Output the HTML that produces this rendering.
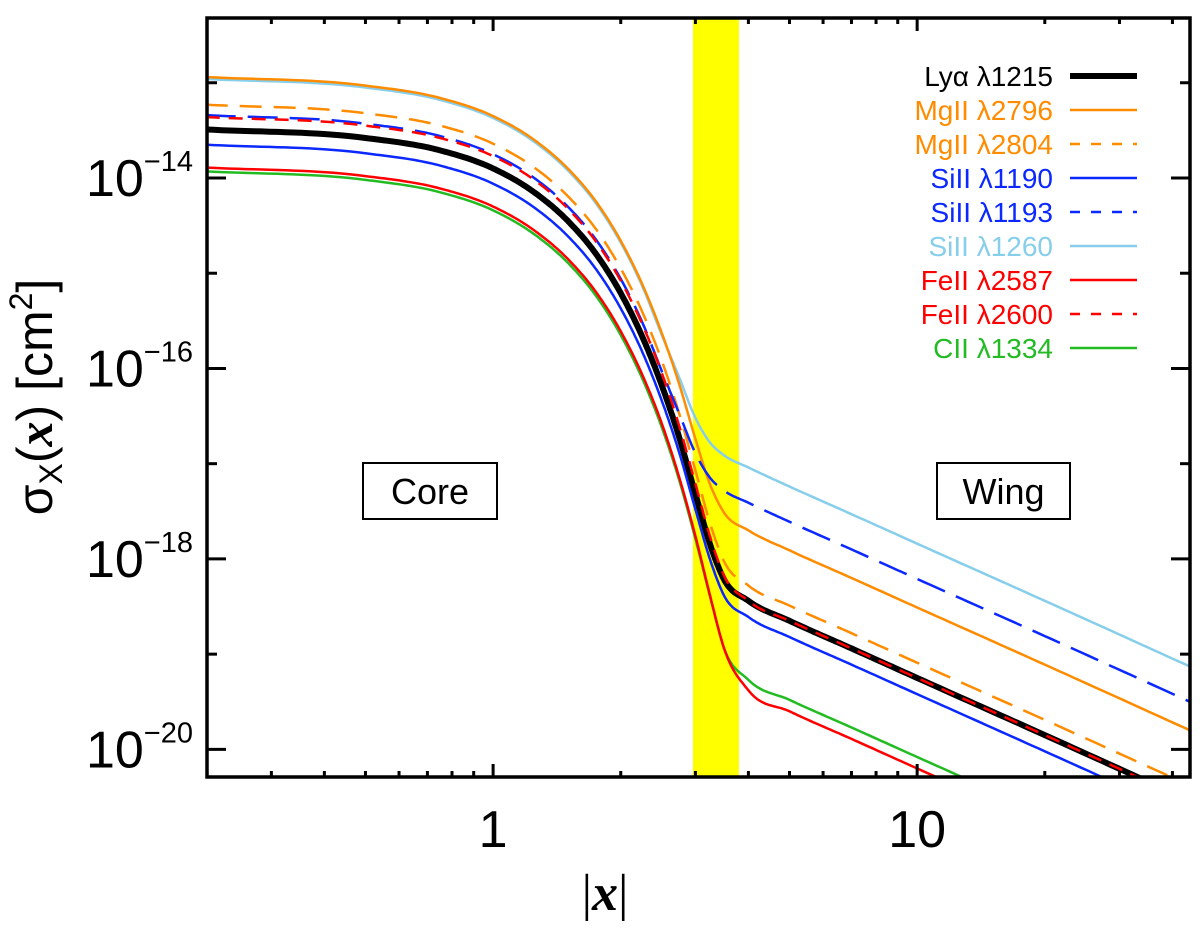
<!DOCTYPE html>
<html><head><meta charset="utf-8"><style>
html,body{margin:0;padding:0;background:#fff;}
svg{display:block;font-family:"Liberation Sans",sans-serif;}
</style></head><body>
<svg id="chart" width="1200" height="932" viewBox="0 0 1200 932">
<g id="bandG"></g>
<g id="seriesG"></g>
<g id="axesG"></g>
<g id="legendG"></g>
</svg>
<script>
// ---- data (log10 sigma in cm^2) ----
const xGrid = [0.21, 0.5, 0.75, 1, 1.25, 1.5, 1.75, 2, 2.25, 2.5, 2.75, 3, 3.25, 3.5, 4, 5, 7, 10, 20, 44];
const lyaVals    = [-13.49,-13.58,-13.71,-13.90,-14.15,-14.45,-14.80,-15.21,-15.67,-16.18,-16.73,-17.32,-17.85,-18.21,-18.44,-18.65,-18.94,-19.25,-19.85,-20.54];
const mg2796Vals = [-12.94,-13.03,-13.16,-13.35,-13.60,-13.90,-14.25,-14.66,-15.12,-15.63,-16.17,-16.74,-17.22,-17.51,-17.70,-17.91,-18.20,-18.51,-19.11,-19.80];
const mg2804Vals = [-13.23,-13.32,-13.45,-13.64,-13.89,-14.19,-14.54,-14.95,-15.41,-15.92,-16.48,-17.07,-17.63,-18.02,-18.28,-18.49,-18.78,-19.09,-19.69,-20.38];
const si1190Vals = [-13.65,-13.74,-13.87,-14.06,-14.31,-14.61,-14.96,-15.37,-15.83,-16.34,-16.89,-17.48,-18.01,-18.38,-18.61,-18.82,-19.11,-19.42,-20.02,-20.71];
const si1193Vals = [-13.34,-13.43,-13.56,-13.75,-14.00,-14.30,-14.65,-15.06,-15.52,-16.03,-16.48,-16.89,-17.15,-17.28,-17.41,-17.61,-17.90,-18.21,-18.81,-19.50];
const si1260Vals = [-12.96,-13.05,-13.18,-13.37,-13.62,-13.92,-14.27,-14.68,-15.14,-15.65,-16.10,-16.52,-16.78,-16.91,-17.04,-17.24,-17.53,-17.84,-18.44,-19.13];
const fe2587Vals = [-13.89,-13.98,-14.11,-14.30,-14.55,-14.85,-15.20,-15.61,-16.07,-16.58,-17.15,-17.76,-18.39,-18.93,-19.38,-19.60,-19.89,-20.20,-20.80,-21.49];
const fe2600Vals = [-13.36,-13.45,-13.58,-13.77,-14.02,-14.32,-14.67,-15.08,-15.54,-16.05,-16.61,-17.21,-17.77,-18.17,-18.44,-18.65,-18.94,-19.25,-19.85,-20.54];
const c1334Vals  = [-13.93,-14.02,-14.15,-14.34,-14.59,-14.89,-15.24,-15.65,-16.11,-16.62,-17.18,-17.79,-18.40,-18.93,-19.27,-19.48,-19.77,-20.08,-20.68,-21.37];
const seriesNames = ["Lyα λ1215","MgII λ2796","MgII λ2804","SiII λ1190","SiII λ1193","SiII λ1260","FeII λ2587","FeII λ2600","CII λ1334"];
const bandRange = [2.96, 3.8];
const xTickLabels = ["1","10"];
const xTickValues = [1,10];
const yTickExps = [-14,-16,-18,-20];

// ---- layout ----
const L=207,R=1190,T=18,B=777;
const xMin=Math.log10(0.2115), xMax=Math.log10(44);
const yMin=-20.29, yMax=-12.32;
const X=v=>L+(Math.log10(v)-xMin)/(xMax-xMin)*(R-L);
const Y=lv=>B-(lv-yMin)/(yMax-yMin)*(B-T);
const NS="http://www.w3.org/2000/svg";
function mk(tag,attrs,parent){const e=document.createElementNS(NS,tag);for(const k in attrs)e.setAttribute(k,attrs[k]);parent.appendChild(e);return e;}
const svg=document.getElementById('chart');
const defs=mk('defs',{},svg);
const cp=mk('clipPath',{id:'plotclip'},defs);
mk('rect',{x:L,y:T,width:R-L,height:B-T},cp);

// band
const band=mk('rect',{x:X(bandRange[0]),y:T,width:X(bandRange[1])-X(bandRange[0]),height:B-T,fill:'#ffff00'},document.getElementById('bandG'));



// boxes
const boxes=[["Core",363,497,"core-label"],["Wing",937,1070,"wing-label"]];
boxes.forEach(b=>{
  const g=mk('g',{},document.getElementById('bandG'));
  
  
  mk('rect',{x:b[1],y:463,width:b[2]-b[1],height:56,fill:'#fff',stroke:'#000','stroke-width':2},g);
  const t=mk('text',{x:(b[1]+b[2])/2,y:504,'text-anchor':'middle','font-size':36},g);t.textContent=b[0];
});

const styles=[
 {v:lyaVals,c:'#000',w:6,d:'',n:'lya-1215'},
 {v:mg2796Vals,c:'#ff8c00',w:2.5,d:'',n:'mgii-2796'},
 {v:mg2804Vals,c:'#ff8c00',w:2.5,d:'22 12',n:'mgii-2804'},
 {v:si1190Vals,c:'#0a28ff',w:2.5,d:'',n:'siii-1190'},
 {v:si1193Vals,c:'#0a28ff',w:2.5,d:'30 12',n:'siii-1193'},
 {v:si1260Vals,c:'#87ceeb',w:2.5,d:'',n:'siii-1260'},
 {v:fe2587Vals,c:'#ff0000',w:2.5,d:'',n:'feii-2587'},
 {v:fe2600Vals,c:'#ff0000',w:2.5,d:'14 9',n:'feii-2600'},
 {v:c1334Vals,c:'#22bb22',w:2.5,d:'',n:'cii-1334'}
];
const drawOrder=[5,1,2,4,0,7,3,8,6];
function curve(vals){
  const px=xGrid.map(v=>Math.log10(v)), n=px.length;
  const m=[];
  for(let i=0;i<n;i++){
    if(i==0)m.push((vals[1]-vals[0])/(px[1]-px[0]));
    else if(i==n-1)m.push((vals[n-1]-vals[n-2])/(px[n-1]-px[n-2]));
    else{const d0=(vals[i]-vals[i-1])/(px[i]-px[i-1]),d1=(vals[i+1]-vals[i])/(px[i+1]-px[i]);
      const h0=px[i]-px[i-1],h1=px[i+1]-px[i];
      m.push(d0*d1<=0?0:(h1*d0+h0*d1)/(h0+h1));}
  }
  let d='';
  for(let i=0;i<n-1;i++){
    const h=px[i+1]-px[i];
    for(let k=0;k<=20;k++){
      const t=k/20,t2=t*t,t3=t2*t;
      const y=(2*t3-3*t2+1)*vals[i]+(t3-2*t2+t)*h*m[i]+(-2*t3+3*t2)*vals[i+1]+(t3-t2)*h*m[i+1];
      const xv=Math.pow(10,px[i]+t*h);
      d+=(d?'L':'M')+X(xv).toFixed(1)+','+Y(y).toFixed(1);
    }
  }
  return d;
}
const sg=mk('g',{'clip-path':'url(#plotclip)'},document.getElementById('seriesG'));
drawOrder.forEach(i=>{
  const s=styles[i];
  const p=mk('path',{d:curve(s.v),fill:'none',stroke:s.c,'stroke-width':s.w,'stroke-dasharray':s.d,'stroke-linejoin':'round'},sg);
  
  
});

// axes
const ag=document.getElementById('axesG');
const frame=mk('rect',{x:L,y:T,width:R-L,height:B-T,fill:'none',stroke:'#000','stroke-width':3.5},ag);


for(let dec=-1;dec<=1;dec++){
  for(let k=1;k<=9;k++){
    const v=k*Math.pow(10,dec);
    if(v<0.2115||v>44)continue;
    const len=(k==1)?13:6,xx=X(v);
    mk('line',{x1:xx,y1:B,x2:xx,y2:B-len,stroke:'#000','stroke-width':3},ag);
    mk('line',{x1:xx,y1:T,x2:xx,y2:T+len,stroke:'#000','stroke-width':3},ag);
  }
}
xTickValues.forEach((v,i)=>{
  const t=mk('text',{x:X(v),y:847,'text-anchor':'middle','font-size':52},ag);
  t.textContent=xTickLabels[i];
  
  
});
for(let e=-20;e<=-13;e++){
  const yy=Y(e),len=(e%2==0)?19:10;
  mk('line',{x1:L,y1:yy,x2:L+len,y2:yy,stroke:'#000','stroke-width':3},ag);
  mk('line',{x1:R,y1:yy,x2:R-len,y2:yy,stroke:'#000','stroke-width':3},ag);
}
yTickExps.forEach(e=>{
  const t=mk('text',{x:193,y:Y(e)+18,'text-anchor':'end','font-size':52},ag);
  
  
  const a=mk('tspan',{},t);a.textContent='10';
  const b=mk('tspan',{dy:-25,'font-size':29},t);b.textContent='−'+Math.abs(e);
});
const xt=mk('text',{x:605,y:910,'text-anchor':'middle','font-size':52,'font-family':'Liberation Serif, serif'},ag);


xt.innerHTML='|<tspan font-style="italic" font-weight="bold">x</tspan>|';
const yt=mk('text',{x:0,y:0,'text-anchor':'middle','font-size':50,transform:'translate(52,397) rotate(-90)'},ag);


yt.innerHTML='σ<tspan font-size="32" dy="10">X</tspan><tspan dy="-10">(</tspan><tspan font-family="Liberation Serif, serif" font-style="italic" font-weight="bold">x</tspan>) [cm<tspan font-size="32" dy="-20">2</tspan><tspan dy="20">]</tspan>';

// legend
const lg=document.getElementById('legendG');


styles.forEach((s,i)=>{
  const y=76+i*34;
  const g=mk('g',{},lg);
  
  
  const t=mk('text',{x:1053,y:y+10,'text-anchor':'end','font-size':28,fill:s.c},g);
  t.textContent=seriesNames[i];
  mk('line',{x1:1070,y1:y,x2:1137,y2:y,stroke:s.c,'stroke-width':s.w,'stroke-dasharray':s.d?'10 11':''},g);
});
</script>
</body></html>
